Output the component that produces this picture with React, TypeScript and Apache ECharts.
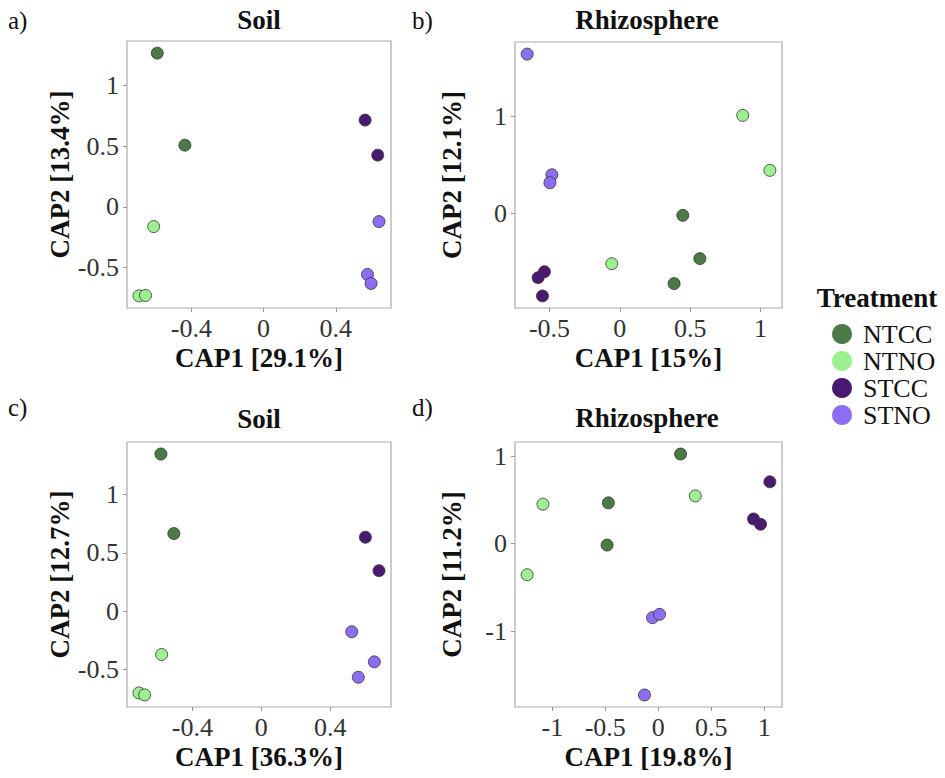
import React, { useEffect, useRef } from "react";
import * as echarts from "echarts";

const treatments = ["NTCC", "NTNO", "STCC", "STNO"];
const colors = ["#4c7a47", "#9cf08f", "#4a1a72", "#8d6ef2"];

// Panel a) Soil
const aNTCC = [[-0.589, 1.263], [-0.436, 0.507]];
const aNTNO = [[-0.609, -0.162], [-0.69, -0.731], [-0.654, -0.728]];
const aSTCC = [[0.562, 0.713], [0.632, 0.425]];
const aSTNO = [[0.639, -0.121], [0.575, -0.555], [0.595, -0.629]];

// Panel b) Rhizosphere
const bNTCC = [[0.448, -0.017], [0.569, -0.46], [0.386, -0.716]];
const bNTNO = [[0.874, 1.007], [1.067, 0.444], [-0.057, -0.512]];
const bSTCC = [[-0.536, -0.594], [-0.581, -0.655], [-0.55, -0.842]];
const bSTNO = [[-0.659, 1.635], [-0.483, 0.399], [-0.497, 0.317]];

// Panel c) Soil
const cNTCC = [[-0.582, 1.347], [-0.507, 0.665]];
const cNTNO = [[-0.578, -0.372], [-0.709, -0.702], [-0.676, -0.719]];
const cSTCC = [[0.603, 0.634], [0.682, 0.347]];
const cSTNO = [[0.524, -0.177], [0.655, -0.435], [0.562, -0.567]];

// Panel d) Rhizosphere
const dNTCC = [[0.211, 1.026], [-0.471, 0.467], [-0.483, -0.016]];
const dNTNO = [[-1.089, 0.452], [-1.238, -0.356], [0.35, 0.547]];
const dSTCC = [[1.054, 0.708], [0.9, 0.283], [0.966, 0.222]];
const dSTNO = [[-0.054, -0.847], [0.012, -0.809], [-0.13, -1.732]];

const panelLetters = ["a)", "b)", "c)", "d)"];
const panelTitles = ["Soil", "Rhizosphere", "Soil", "Rhizosphere"];
const xTitles = ["CAP1 [29.1%]", "CAP1 [15%]", "CAP1 [36.3%]", "CAP1 [19.8%]"];
const yTitles = ["CAP2 [13.4%]", "CAP2 [12.1%]", "CAP2 [12.7%]", "CAP2 [11.2%]"];
const xTicks = [[-0.4, 0, 0.4], [-0.5, 0, 0.5, 1], [-0.4, 0, 0.4], [-1, -0.5, 0, 0.5, 1]];
const yTicks = [[-0.5, 0, 0.5, 1], [0, 1], [-0.5, 0, 0.5, 1], [-1, 0, 1]];
const legendTitle = "Treatment";

const panelData = [
  [aNTCC, aNTNO, aSTCC, aSTNO],
  [bNTCC, bNTNO, bSTCC, bSTNO],
  [cNTCC, cNTNO, cSTCC, cSTNO],
  [dNTCC, dNTNO, dSTCC, dSTNO],
];

const FONT = "Liberation Serif";

const grids = [
  { left: 127, top: 41, width: 264, height: 267 },
  { left: 515, top: 42, width: 267, height: 266 },
  { left: 127, top: 442, width: 264, height: 265 },
  { left: 515, top: 442, width: 267, height: 265 },
];
const letterPos = [
  [8, 20],
  [412, 20],
  [8, 407],
  [412, 407],
];
const titlePos = [
  [259, 20],
  [647, 20],
  [259, 419],
  [647, 418],
];

function range(groups: number[][][], idx: number) {
  const vals: number[] = [];
  groups.forEach((g) => g.forEach((p) => vals.push(p[idx])));
  const lo = Math.min(...vals);
  const hi = Math.max(...vals);
  const pad = (hi - lo) * 0.05;
  return [lo - pad, hi + pad];
}

export default function App() {
  const ref = useRef<HTMLDivElement>(null);
  useEffect(() => {
    if (!ref.current) return;
    const chart = echarts.init(ref.current, null, { renderer: "svg" });

    const xAxis: any[] = [];
    const yAxis: any[] = [];
    const series: any[] = [];
    const graphic: any[] = [];

    panelData.forEach((groups, i) => {
      const [xmin, xmax] = range(groups, 0);
      const [ymin, ymax] = range(groups, 1);
      xAxis.push({
        type: "value",
        gridIndex: i,
        position: "bottom",
        min: xmin,
        max: xmax,
        name: xTitles[i],
        nameLocation: "middle",
        nameGap: 36,
        nameTextStyle: { fontFamily: FONT, fontWeight: "bold", fontSize: 27, color: "#111" },
        axisLine: { show: false, onZero: false },
        splitLine: { show: false },
        axisTick: { show: true, length: 4, lineStyle: { color: "#999" }, customValues: xTicks[i] },
        axisLabel: {
          customValues: xTicks[i],
          fontFamily: FONT,
          fontWeight: "normal",
          fontSize: 26,
          color: "#333",
          margin: 7,
          formatter: (v: number) => String(v),
        },
      });
      yAxis.push({
        type: "value",
        gridIndex: i,
        position: "left",
        min: ymin,
        max: ymax,
        name: yTitles[i],
        nameLocation: "middle",
        nameGap: 50,
        nameTextStyle: { fontFamily: FONT, fontWeight: "bold", fontSize: 27, color: "#111" },
        axisLine: { show: false, onZero: false },
        splitLine: { show: false },
        axisTick: { show: true, length: 4, lineStyle: { color: "#999" }, customValues: yTicks[i] },
        axisLabel: {
          customValues: yTicks[i],
          fontFamily: FONT,
          fontWeight: "normal",
          fontSize: 26,
          color: "#333",
          margin: 8,
          formatter: (v: number) => String(v),
        },
      });
      groups.forEach((pts, t) => {
        series.push({
          type: "scatter",
          name: treatments[t],
          xAxisIndex: i,
          yAxisIndex: i,
          data: pts,
          symbol: "circle",
          symbolSize: 12,
          itemStyle: { color: colors[t], borderColor: "#333", borderWidth: 0.8, opacity: 1 },
          emphasis: { disabled: true },
        });
      });
      graphic.push({
        type: "text",
        x: letterPos[i][0],
        y: letterPos[i][1],
        style: {
          text: panelLetters[i],
          fontFamily: FONT,
          fontWeight: "normal",
          fontSize: 25,
          fill: "#111",
          align: "left",
          verticalAlign: "middle",
        },
      });
      graphic.push({
        type: "text",
        x: titlePos[i][0],
        y: titlePos[i][1],
        style: {
          text: panelTitles[i],
          fontFamily: FONT,
          fontWeight: "bold",
          fontSize: 27,
          fill: "#111",
          align: "center",
          verticalAlign: "middle",
        },
      });
    });

    graphic.push({
      type: "text",
      x: 877,
      y: 298,
      style: {
        text: legendTitle,
        fontFamily: FONT,
        fontWeight: "bold",
        fontSize: 27,
        fill: "#111",
        align: "center",
        verticalAlign: "middle",
      },
    });

    chart.setOption({
      animation: false,
      backgroundColor: "#ffffff",
      textStyle: { fontFamily: FONT },
      grid: grids.map((g) => ({ ...g, show: true, borderColor: "#aaaaaa", borderWidth: 1.2, containLabel: false })),
      xAxis,
      yAxis,
      series,
      graphic,
      legend: {
        data: treatments,
        orient: "vertical",
        left: 832,
        top: 321,
        padding: 0,
        itemWidth: 20,
        itemHeight: 20,
        itemGap: 1,
        icon: "circle",
        itemStyle: { borderWidth: 0 },
        selectedMode: false,
        textStyle: { fontFamily: FONT, fontWeight: "normal", fontSize: 26, color: "#111", padding: [0, 0, 0, 6], lineHeight: 26 },
      },
    });
    return () => chart.dispose();
  }, []);
  return (
    <div
      ref={ref}
      style={{ position: "absolute", left: 0, top: 0, width: 945, height: 778, fontFamily: FONT }}
    />
  );
}
